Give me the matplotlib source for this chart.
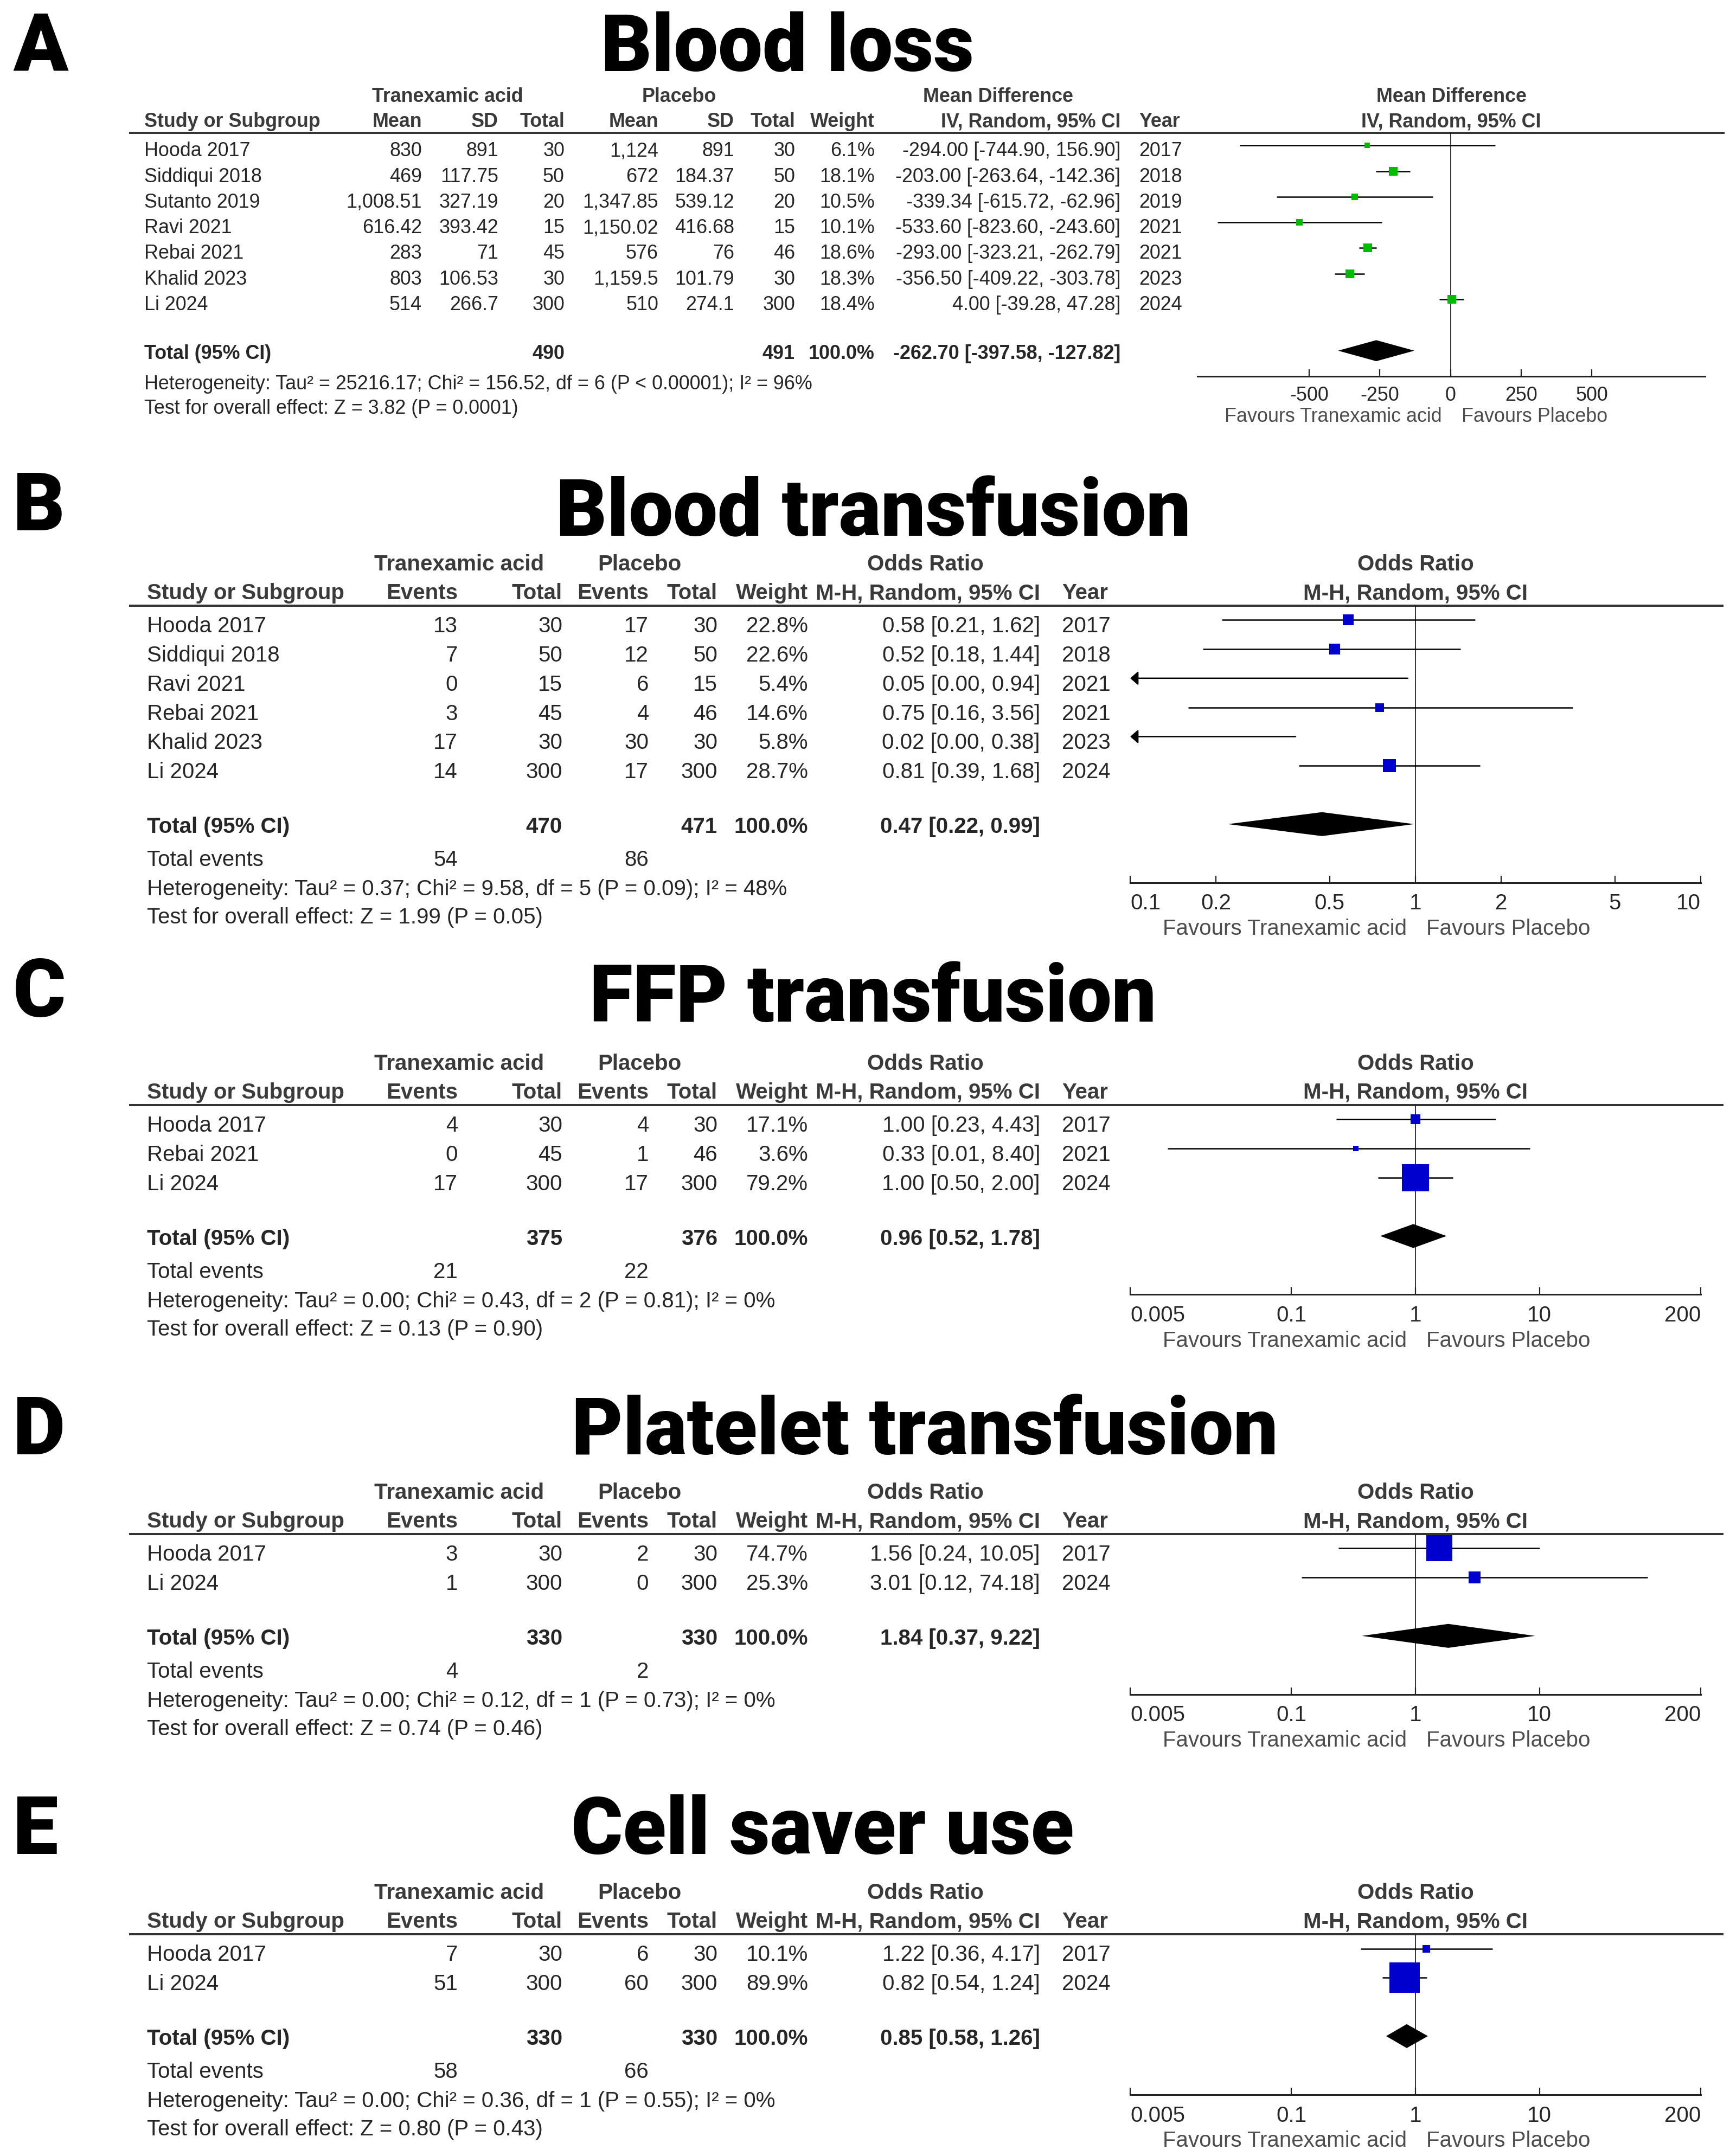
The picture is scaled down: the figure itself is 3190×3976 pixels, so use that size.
import matplotlib
matplotlib.use('Agg')
import matplotlib.pyplot as plt
from matplotlib.ticker import NullLocator

# ---------------- data ----------------
# A  blood loss (mean difference, IV random)
a_study = ['Hooda 2017', 'Siddiqui 2018', 'Sutanto 2019', 'Ravi 2021', 'Rebai 2021', 'Khalid 2023', 'Li 2024']
a_txa_mean = ['830', '469', '1,008.51', '616.42', '283', '803', '514']
a_txa_sd = ['891', '117.75', '327.19', '393.42', '71', '106.53', '266.7']
a_txa_n = [30, 50, 20, 15, 45, 30, 300]
a_pl_mean = ['1,124', '672', '1,347.85', '1,150.02', '576', '1,159.5', '510']
a_pl_sd = ['891', '184.37', '539.12', '416.68', '76', '101.79', '274.1']
a_pl_n = [30, 50, 20, 15, 46, 30, 300]
a_weight = [6.1, 18.1, 10.5, 10.1, 18.6, 18.3, 18.4]
a_md = [-294.00, -203.00, -339.34, -533.60, -293.00, -356.50, 4.00]
a_lo = [-744.90, -263.64, -615.72, -823.60, -323.21, -409.22, -39.28]
a_hi = [156.90, -142.36, -62.96, -243.60, -262.79, -303.78, 47.28]
a_year = [2017, 2018, 2019, 2021, 2021, 2023, 2024]
a_tot_n = [490, 491]
a_tot = [-262.70, -397.58, -127.82]
a_het = 'Heterogeneity: Tau\u00b2 = 25216.17; Chi\u00b2 = 156.52, df = 6 (P < 0.00001); I\u00b2 = 96%'
a_test = 'Test for overall effect: Z = 3.82 (P = 0.0001)'
a_ticks = [-500, -250, 0, 250, 500]

# B  blood transfusion
b_study = ['Hooda 2017', 'Siddiqui 2018', 'Ravi 2021', 'Rebai 2021', 'Khalid 2023', 'Li 2024']
b_txa_ev = [13, 7, 0, 3, 17, 14]
b_txa_n = [30, 50, 15, 45, 30, 300]
b_pl_ev = [17, 12, 6, 4, 30, 17]
b_pl_n = [30, 50, 15, 46, 30, 300]
b_weight = [22.8, 22.6, 5.4, 14.6, 5.8, 28.7]
b_or = [0.58, 0.52, 0.05, 0.75, 0.02, 0.81]
b_lo = [0.21, 0.18, 0.00, 0.16, 0.00, 0.39]
b_hi = [1.62, 1.44, 0.94, 3.56, 0.38, 1.68]
b_year = [2017, 2018, 2021, 2021, 2023, 2024]
b_tot_n = [470, 471]
b_tot = [0.47, 0.22, 0.99]
b_tot_ev = [54, 86]
b_het = 'Heterogeneity: Tau\u00b2 = 0.37; Chi\u00b2 = 9.58, df = 5 (P = 0.09); I\u00b2 = 48%'
b_test = 'Test for overall effect: Z = 1.99 (P = 0.05)'
b_ticks = [0.1, 0.2, 0.5, 1, 2, 5, 10]
b_ticklab = ['0.1', '0.2', '0.5', '1', '2', '5', '10']

# C  FFP transfusion
c_study = ['Hooda 2017', 'Rebai 2021', 'Li 2024']
c_txa_ev = [4, 0, 17]
c_txa_n = [30, 45, 300]
c_pl_ev = [4, 1, 17]
c_pl_n = [30, 46, 300]
c_weight = [17.1, 3.6, 79.2]
c_or = [1.00, 0.33, 1.00]
c_lo = [0.23, 0.01, 0.50]
c_hi = [4.43, 8.40, 2.00]
c_year = [2017, 2021, 2024]
c_tot_n = [375, 376]
c_tot = [0.96, 0.52, 1.78]
c_tot_ev = [21, 22]
c_het = 'Heterogeneity: Tau\u00b2 = 0.00; Chi\u00b2 = 0.43, df = 2 (P = 0.81); I\u00b2 = 0%'
c_test = 'Test for overall effect: Z = 0.13 (P = 0.90)'

# D  platelet transfusion
d_study = ['Hooda 2017', 'Li 2024']
d_txa_ev = [3, 1]
d_txa_n = [30, 300]
d_pl_ev = [2, 0]
d_pl_n = [30, 300]
d_weight = [74.7, 25.3]
d_or = [1.56, 3.01]
d_lo = [0.24, 0.12]
d_hi = [10.05, 74.18]
d_year = [2017, 2024]
d_tot_n = [330, 330]
d_tot = [1.84, 0.37, 9.22]
d_tot_ev = [4, 2]
d_het = 'Heterogeneity: Tau\u00b2 = 0.00; Chi\u00b2 = 0.12, df = 1 (P = 0.73); I\u00b2 = 0%'
d_test = 'Test for overall effect: Z = 0.74 (P = 0.46)'

# E  cell saver use
e_study = ['Hooda 2017', 'Li 2024']
e_txa_ev = [7, 51]
e_txa_n = [30, 300]
e_pl_ev = [6, 60]
e_pl_n = [30, 300]
e_weight = [10.1, 89.9]
e_or = [1.22, 0.82]
e_lo = [0.36, 0.54]
e_hi = [4.17, 1.24]
e_year = [2017, 2024]
e_tot_n = [330, 330]
e_tot = [0.85, 0.58, 1.26]
e_tot_ev = [58, 66]
e_het = 'Heterogeneity: Tau\u00b2 = 0.00; Chi\u00b2 = 0.36, df = 1 (P = 0.55); I\u00b2 = 0%'
e_test = 'Test for overall effect: Z = 0.80 (P = 0.43)'

wide_ticks = [0.005, 0.1, 1, 10, 200]
wide_ticklab = ['0.005', '0.1', '1', '10', '200']

# ---------------- figure ----------------
W, H = 3190, 3976
PT = 0.72          # points per pixel at dpi 100
FONT = 'Liberation Sans'
TXT = '#262626'
HDR = '#3a3a3a'
GRAY = '#4d4d4d'
BLUE = '#0000cc'
GREEN = '#00bb00'

fig = plt.figure(figsize=(W / 100, H / 100), dpi=100)
bg = fig.add_axes([0, 0, 1, 1])
bg.set_xlim(0, W)
bg.set_ylim(H, 0)
bg.axis('off')


def put(x, y, s, fs, ha='left', bold=False, color=TXT):
    # y is the visual centre of the capitals, in pixels
    bg.text(x, y + 0.36 * fs / PT, s, fontsize=fs, ha=ha, va='baseline',
            fontweight='bold' if bold else 'normal', color=color, family=FONT)


def heading(tag, title, label_base, title_base, title_cx):
    bg.text(24, label_base, tag, fontsize=107, fontweight='black', family='Roboto',
            ha='left', va='baseline', color='black')
    bg.text(title_cx, title_base, title, fontsize=105, fontweight='black', family='Roboto',
            ha='center', va='baseline', color='black')


def forest(x0, x1, rule_y, axis_y, y0, step, est, lo, hi, w, tot, xlim, ticks, ticklab,
           log, colour, fs, k, tick_dy, fav_dy):
    ax = fig.add_axes([x0 / W, 1 - axis_y / H, (x1 - x0) / W, (axis_y - rule_y) / H])
    ax.patch.set_visible(False)
    if log:
        ax.set_xscale('log')
    ax.set_xlim(*xlim)
    ax.set_ylim((axis_y - y0) / step, (rule_y - y0) / step)
    null = 1 if log else 0
    ax.axvline(null, color='#222222', lw=1.3, zorder=1)
    n = len(est)
    for i in range(n):
        if lo[i] < xlim[0]:
            ax.annotate('', xy=(xlim[0], i), xytext=(hi[i], i), annotation_clip=False,
                        arrowprops=dict(arrowstyle='-|>,head_length=0.4,head_width=0.35',
                                        color='black', lw=1.8, shrinkA=0, shrinkB=0,
                                        mutation_scale=22))
        else:
            ax.plot([lo[i], hi[i]], [i, i], color='black', lw=1.8,
                    solid_capstyle='butt', zorder=2)
        if xlim[0] < est[i] < xlim[1]:
            side = k * (8 + 0.53 * w[i])
            ax.plot(est[i], i, marker='s', ms=side * PT, color=colour, mew=0, zorder=3)
    m, l, h = tot
    t = n + 1
    ax.fill([l, m, h, m], [t, t - 0.41, t, t + 0.41], color='black', lw=0, zorder=3)

    ax.set_xticks(ticks)
    ax.set_xticklabels(ticklab)
    ax.xaxis.set_minor_locator(NullLocator())
    ax.set_yticks([])
    for s in ('top', 'left', 'right'):
        ax.spines[s].set_visible(False)
    ax.spines['bottom'].set_linewidth(2.2)
    ax.spines['bottom'].set_color('#222222')
    em = fs / PT
    ax.tick_params(axis='x', direction='in', length=13 * PT, width=1.6, color='#222222',
                   labelsize=fs, labelcolor=TXT, pad=(tick_dy - 0.38 * em) * PT)
    labs = ax.get_xticklabels()
    for lab in labs:
        lab.set_family(FONT)
    if ticks[0] == xlim[0]:
        labs[0].set_ha('left')
        labs[-1].set_ha('right')
    dy = -(fav_dy + 0.36 * em) * PT
    ax.annotate('Favours Tranexamic acid', xy=(null, 0), xycoords=('data', 'axes fraction'),
                xytext=(-16 * PT, dy), textcoords='offset points', ha='right', va='baseline',
                fontsize=fs, color=GRAY, family=FONT, annotation_clip=False)
    ax.annotate('Favours Placebo', xy=(null, 0), xycoords=('data', 'axes fraction'),
                xytext=(20 * PT, dy), textcoords='offset points', ha='left', va='baseline',
                fontsize=fs, color=GRAY, family=FONT, annotation_clip=False)
    return ax


# ---------------- panel A ----------------
FA = 25.8
heading('A', 'Blood loss', 130, 130, 1452)
rule = 244.5
y0, step = 268.3, 47.3
ax0, ax1 = 2208, 3144
total_line = y0 + (len(a_study) + 1) * step
axis_y = total_line + 47.5
put(825, rule - 69, 'Tranexamic acid', FA, 'center', True, HDR)
put(1252, rule - 69, 'Placebo', FA, 'center', True, HDR)
put(1840, rule - 69, 'Mean Difference', FA, 'center', True, HDR)
put((ax0 + ax1) / 2, rule - 69, 'Mean Difference', FA, 'center', True, HDR)
hy = rule - 23
put(266, hy, 'Study or Subgroup', FA, 'left', True, HDR)
for x, s in [(778, 'Mean'), (919, 'SD'), (1041, 'Total'), (1214, 'Mean'), (1354, 'SD'),
             (1466, 'Total'), (1613, 'Weight'), (2066, 'IV, Random, 95% CI')]:
    put(x, hy, s, FA, 'right', True, HDR)
put(2100, hy, 'Year', FA, 'left', True, HDR)
put((ax0 + ax1) / 2, hy, 'IV, Random, 95% CI', FA, 'center', True, HDR)
bg.plot([238, 3180], [rule, rule], color='#333333', lw=2.9, solid_capstyle='butt')
for i in range(len(a_study)):
    y = y0 + i * step + 7
    put(266, y, a_study[i], FA)
    put(778, y, a_txa_mean[i], FA, 'right')
    put(919, y, a_txa_sd[i], FA, 'right')
    put(1041, y, str(a_txa_n[i]), FA, 'right')
    put(1214, y, a_pl_mean[i], FA, 'right')
    put(1354, y, a_pl_sd[i], FA, 'right')
    put(1466, y, str(a_pl_n[i]), FA, 'right')
    put(1613, y, f'{a_weight[i]:.1f}%', FA, 'right')
    put(2066, y, f'{a_md[i]:.2f} [{a_lo[i]:.2f}, {a_hi[i]:.2f}]', FA, 'right')
    put(2100, y, str(a_year[i]), FA)
ty = total_line + 2
put(266, ty, 'Total (95% CI)', FA, 'left', True)
put(1041, ty, str(a_tot_n[0]), FA, 'right', True)
put(1466, ty, str(a_tot_n[1]), FA, 'right', True)
put(1613, ty, '100.0%', FA, 'right', True)
put(2066, ty, f'{a_tot[0]:.2f} [{a_tot[1]:.2f}, {a_tot[2]:.2f}]', FA, 'right', True)
put(266, ty + 56, a_het, FA)
put(266, ty + 101, a_test, FA)
forest(ax0, ax1, rule, axis_y, y0, step, a_md, a_lo, a_hi, a_weight, a_tot, (-895, 900),
       a_ticks, [str(t) for t in a_ticks], False, GREEN, FA, 0.88, 31, 71)

# ---------------- panels B-E ----------------
FB = 29
OX0, OX1 = 2084, 3136


def or_panel(tag, title, lab_base, title_base, title_cx, rule, study, te, tn, pe, pn, w,
             est, lo, hi, yr, tot_n, tot, tot_ev, het, test, xlim, ticks, ticklab):
    heading(tag, title, lab_base, title_base, title_cx)
    y0, step = rule + 26.7, 53.8
    n = len(study)
    put(847, rule - 79, 'Tranexamic acid', FB, 'center', True, HDR)
    put(1179, rule - 79, 'Placebo', FB, 'center', True, HDR)
    put(1706, rule - 79, 'Odds Ratio', FB, 'center', True, HDR)
    put((OX0 + OX1) / 2, rule - 79, 'Odds Ratio', FB, 'center', True, HDR)
    hy = rule - 26
    put(271, hy, 'Study or Subgroup', FB, 'left', True, HDR)
    for x, s in [(844, 'Events'), (1037, 'Total'), (1196, 'Events'), (1323, 'Total'),
                 (1490, 'Weight'), (1918, 'M-H, Random, 95% CI')]:
        put(x, hy, s, FB, 'right', True, HDR)
    put(1958, hy, 'Year', FB, 'left', True, HDR)
    put((OX0 + OX1) / 2, hy, 'M-H, Random, 95% CI', FB, 'center', True, HDR)
    bg.plot([238, 3178], [rule, rule], color='#333333', lw=2.9, solid_capstyle='butt')
    for i in range(n):
        y = y0 + i * step + 8.5
        put(271, y, study[i], FB)
        put(844, y, str(te[i]), FB, 'right')
        put(1037, y, str(tn[i]), FB, 'right')
        put(1196, y, str(pe[i]), FB, 'right')
        put(1323, y, str(pn[i]), FB, 'right')
        put(1490, y, f'{w[i]:.1f}%', FB, 'right')
        put(1918, y, f'{est[i]:.2f} [{lo[i]:.2f}, {hi[i]:.2f}]', FB, 'right')
        put(1958, y, str(yr[i]), FB)
    total_line = y0 + (n + 1) * step
    ty = total_line + 2
    put(271, ty, 'Total (95% CI)', FB, 'left', True)
    put(1037, ty, str(tot_n[0]), FB, 'right', True)
    put(1323, ty, str(tot_n[1]), FB, 'right', True)
    put(1490, ty, '100.0%', FB, 'right', True)
    put(1918, ty, f'{tot[0]:.2f} [{tot[1]:.2f}, {tot[2]:.2f}]', FB, 'right', True)
    put(271, ty + 61, 'Total events', FB)
    put(844, ty + 61, str(tot_ev[0]), FB, 'right')
    put(1196, ty + 61, str(tot_ev[1]), FB, 'right')
    put(271, ty + 115, het, FB)
    put(271, ty + 167, test, FB)
    forest(OX0, OX1, rule, total_line + 108, y0, step, est, lo, hi, w, tot, xlim,
           ticks, ticklab, True, BLUE, FB, 1.0, 35, 82)


or_panel('B', 'Blood transfusion', 978, 988, 1610, 1116.5, b_study, b_txa_ev, b_txa_n,
         b_pl_ev, b_pl_n, b_weight, b_or, b_lo, b_hi, b_year, b_tot_n, b_tot, b_tot_ev,
         b_het, b_test, (0.1, 10), b_ticks, b_ticklab)
or_panel('C', 'FFP transfusion', 1875, 1884, 1610, 2037.5, c_study, c_txa_ev, c_txa_n,
         c_pl_ev, c_pl_n, c_weight, c_or, c_lo, c_hi, c_year, c_tot_n, c_tot, c_tot_ev,
         c_het, c_test, (0.005, 200), wide_ticks, wide_ticklab)
or_panel('D', 'Platelet transfusion', 2682, 2682, 1705, 2828.7, d_study, d_txa_ev, d_txa_n,
         d_pl_ev, d_pl_n, d_weight, d_or, d_lo, d_hi, d_year, d_tot_n, d_tot, d_tot_ev,
         d_het, d_test, (0.005, 200), wide_ticks, wide_ticklab)
or_panel('E', 'Cell saver use', 3419, 3419, 1517, 3566.8, e_study, e_txa_ev, e_txa_n,
         e_pl_ev, e_pl_n, e_weight, e_or, e_lo, e_hi, e_year, e_tot_n, e_tot, e_tot_ev,
         e_het, e_test, (0.005, 200), wide_ticks, wide_ticklab)

fig.savefig('out.png', dpi=100, facecolor='white')
